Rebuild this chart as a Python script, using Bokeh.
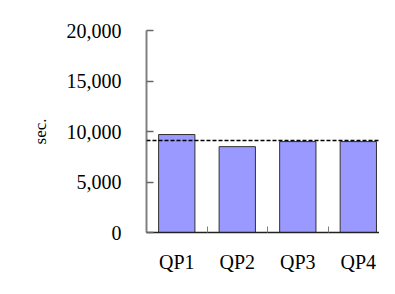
from bokeh.plotting import figure
from bokeh.models import FixedTicker, Span, Range1d, ColumnDataSource
from bokeh.embed import file_html
from bokeh.resources import INLINE

categories = ["QP1", "QP2", "QP3", "QP4"]
values = [9700, 8500, 9000, 9000]
positions = [1, 2, 3, 4]
average_line = 9100
y_ticks = [0, 5000, 10000, 15000, 20000]

src = ColumnDataSource(dict(x=positions, top=values))

p = figure(width=379, height=278, output_backend="svg", toolbar_location=None,
           x_range=Range1d(0.5, 4.35), y_range=Range1d(0, 20000),
           min_border_left=146, min_border_right=0, min_border_top=30, min_border_bottom=46)
p.outline_line_color = None
p.grid.visible = False

p.vbar(x="x", top="top", width=0.6, source=src, fill_color="#9999FF",
       line_color="#333333", line_width=1)

p.add_layout(Span(location=average_line, dimension="width", line_color="black",
                  line_dash="4 2", line_width=1.5))

xt = FixedTicker(ticks=positions, minor_ticks=[1.5, 2.5, 3.5])
p.xaxis.ticker = xt
p.xaxis.major_label_overrides = {pos: c for pos, c in zip(positions, categories)}
p.xaxis.major_tick_in = 0
p.xaxis.major_tick_out = 0
p.xaxis.minor_tick_in = 6
p.xaxis.minor_tick_out = 0
p.xaxis.minor_tick_line_color = "#808080"
p.xaxis.axis_line_color = "#222222"
p.xaxis.axis_line_width = 1.5
p.xaxis.major_label_standoff = 18
p.xaxis.major_label_text_font = "Liberation Serif"
p.xaxis.major_label_text_font_size = "20px"
p.xaxis.major_label_text_color = "black"

p.yaxis.ticker = FixedTicker(ticks=y_ticks)
p.yaxis.major_label_overrides = {t: f"{t:,}" for t in y_ticks}
p.yaxis.minor_tick_line_color = None
p.yaxis.major_tick_in = 7
p.yaxis.major_tick_out = 0
p.yaxis.major_tick_line_color = "#666666"
p.yaxis.major_tick_line_width = 1.5
p.yaxis.axis_line_color = "#808080"
p.yaxis.axis_line_width = 2
p.yaxis.major_label_standoff = 25
p.yaxis.major_label_text_font = "Liberation Serif"
p.yaxis.major_label_text_font_size = "20px"
p.yaxis.major_label_text_color = "black"
p.yaxis.axis_label = "sec."
p.yaxis.axis_label_text_font = "Liberation Serif"
p.yaxis.axis_label_text_font_size = "17px"
p.yaxis.axis_label_text_font_style = "normal"
p.yaxis.axis_label_text_color = "black"
p.yaxis.axis_label_standoff = 14

open("out.html", "w").write(file_html(p, INLINE))
